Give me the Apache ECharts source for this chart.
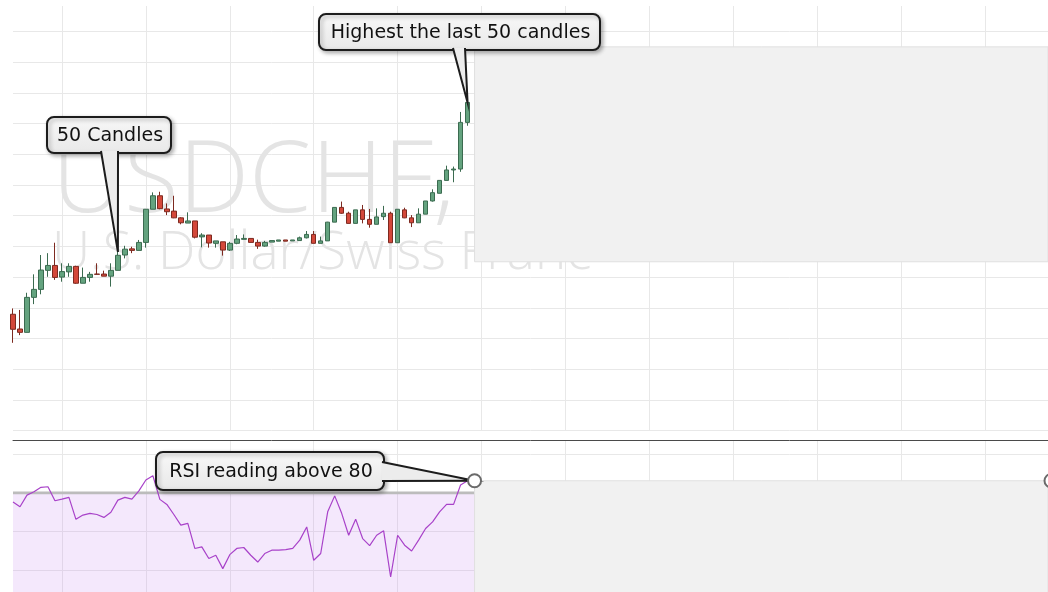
<!DOCTYPE html>
<html>
<head>
<meta charset="utf-8">
<title>USDCHF</title>
<script src="https://cdn.jsdelivr.net/npm/echarts@6/dist/echarts.min.js"></script>
<style>
html, body { margin: 0; padding: 0; background: #ffffff; }
#main { width: 1048px; height: 592px; }
</style>
</head>
<body>
<div id="main"></div>
<script>
// price data (one entry per candle)
var opens = [0.92379, 0.92331, 0.92320, 0.92434, 0.92460, 0.92522, 0.92538, 0.92500, 0.92517, 0.92535,
             0.92480, 0.92499, 0.92510, 0.92510, 0.92503, 0.92522, 0.92572, 0.92592, 0.92587, 0.92613,
             0.92721, 0.92765, 0.92722, 0.92715, 0.92693, 0.92676, 0.92683, 0.92631, 0.92637, 0.92610,
             0.92615, 0.92588, 0.92610, 0.92623, 0.92626, 0.92613, 0.92601, 0.92614, 0.92617, 0.92621,
             0.92618, 0.92619, 0.92628, 0.92639, 0.92610, 0.92618, 0.92679, 0.92727, 0.92708, 0.92675,
             0.92719, 0.92688, 0.92672, 0.92697, 0.92708, 0.92612, 0.92719, 0.92693, 0.92677, 0.92705,
             0.92748, 0.92773, 0.92815, 0.92849, 0.92852, 0.93004];
var closes = [0.92330, 0.92320, 0.92434, 0.92460, 0.92523, 0.92538, 0.92499, 0.92518, 0.92535, 0.92480,
              0.92499, 0.92509, 0.92509, 0.92503, 0.92522, 0.92571, 0.92591, 0.92587, 0.92613, 0.92721,
              0.92765, 0.92723, 0.92713, 0.92693, 0.92677, 0.92683, 0.92630, 0.92637, 0.92611, 0.92618,
              0.92588, 0.92610, 0.92624, 0.92626, 0.92613, 0.92601, 0.92613, 0.92619, 0.92621, 0.92617,
              0.92621, 0.92628, 0.92639, 0.92610, 0.92618, 0.92679, 0.92727, 0.92708, 0.92675, 0.92719,
              0.92688, 0.92672, 0.92696, 0.92708, 0.92612, 0.92721, 0.92693, 0.92677, 0.92705, 0.92748,
              0.92775, 0.92815, 0.92849, 0.92852, 0.93004, 0.93069];
var lows = [0.92286, 0.92311, 0.92320, 0.92412, 0.92444, 0.92501, 0.92491, 0.92485, 0.92501, 0.92478,
            0.92480, 0.92485, 0.92508, 0.92503, 0.92469, 0.92522, 0.92561, 0.92578, 0.92587, 0.92596,
            0.92721, 0.92721, 0.92702, 0.92692, 0.92672, 0.92676, 0.92626, 0.92597, 0.92596, 0.92596,
            0.92570, 0.92585, 0.92607, 0.92623, 0.92613, 0.92592, 0.92599, 0.92614, 0.92617, 0.92617,
            0.92618, 0.92619, 0.92626, 0.92610, 0.92610, 0.92618, 0.92679, 0.92706, 0.92675, 0.92675,
            0.92675, 0.92661, 0.92672, 0.92686, 0.92612, 0.92612, 0.92692, 0.92663, 0.92677, 0.92705,
            0.92746, 0.92773, 0.92815, 0.92809, 0.92843, 0.92993];
var highs = [0.92398, 0.92393, 0.92449, 0.92509, 0.92572, 0.92578, 0.92612, 0.92545, 0.92545, 0.92537,
             0.92531, 0.92517, 0.92545, 0.92521, 0.92545, 0.92582, 0.92602, 0.92599, 0.92621, 0.92721,
             0.92776, 0.92778, 0.92740, 0.92765, 0.92695, 0.92711, 0.92683, 0.92643, 0.92637, 0.92618,
             0.92615, 0.92615, 0.92637, 0.92639, 0.92626, 0.92622, 0.92618, 0.92619, 0.92621, 0.92621,
             0.92621, 0.92632, 0.92650, 0.92650, 0.92632, 0.92680, 0.92727, 0.92746, 0.92713, 0.92719,
             0.92735, 0.92722, 0.92724, 0.92732, 0.92713, 0.92721, 0.92726, 0.92702, 0.92724, 0.92748,
             0.92786, 0.92815, 0.92863, 0.92860, 0.93038, 0.93083];
var rsiValues = [75.2, 72.8, 78.8, 80.5, 82.8, 83.1, 75.9, 76.7, 77.6, 66.3,
                 68.5, 69.4, 68.8, 67.3, 70.0, 76.2, 77.6, 76.7, 81.0, 86.6,
                 88.8, 76.6, 74.0, 68.8, 63.3, 64.2, 51.3, 52.1, 46.1, 47.8,
                 40.9, 48.1, 51.3, 51.8, 47.8, 44.3, 48.7, 50.4, 50.4, 50.7,
                 51.3, 55.6, 62.4, 45.2, 48.7, 70.2, 78.4, 69.4, 58.1, 66.4,
                 56.4, 52.8, 58.1, 60.4, 36.6, 58.1, 53.0, 50.0, 55.6, 61.6,
                 65.0, 70.2, 74.0, 74.0, 84.0, 86.2];
var priceTicks = {min: 0.920, max: 0.933831, step: 0.001};
var rsiTicks = {min: 0, max: 107.2, step: 20, overbought: 80};
var hiddenZone = {top: 0.9325, bottom: 0.9255};
var symbolName = 'USDCHF, H1';
var symbolDesc = 'U.S. Dollar/Swiss Franc';
var notes = ['50 Candles', 'Highest the last 50 candles', 'RSI reading above 80'];

// chart has empty slots to the right of the last candle
var slotCount = 149;
var categories = [];
for (var i = 0; i < slotCount; i++) {
    categories.push(String(i));
}
var candleData = [];
for (var j = 0; j < opens.length; j++) {
    candleData.push([opens[j], closes[j], lows[j], highs[j]]);
}
var lastSlot = categories[slotCount - 1];
var futureSlot = categories[opens.length];

var gridColor = '#e8e8e8';
function gridInterval(index) {
    return (index - 7) % 12 === 0;
}

var chart = echarts.init(document.getElementById('main'));

var option = {
    animation: false,
    backgroundColor: '#ffffff',
    grid: [
        {left: 13, right: 0, top: 6, bottom: 161.4, outerBoundsMode: 'none'},
        {left: 13, right: 0, top: 440, bottom: -56, outerBoundsMode: 'none'}
    ],
    xAxis: [
        {
            type: 'category', gridIndex: 0, data: categories, boundaryGap: false,
            axisLine: {show: false}, axisTick: {show: false}, axisLabel: {show: false},
            splitLine: {show: true, interval: gridInterval, lineStyle: {color: gridColor, width: 1}}
        },
        {
            type: 'category', gridIndex: 1, data: categories, boundaryGap: false, position: 'top',
            axisLine: {show: true, onZero: false, lineStyle: {color: '#4a4a4a', width: 1}},
            axisTick: {show: false}, axisLabel: {show: false},
            splitLine: {show: true, interval: gridInterval, lineStyle: {color: gridColor, width: 1}}
        }
    ],
    yAxis: [
        {
            type: 'value', gridIndex: 0, min: priceTicks.min, max: priceTicks.max, interval: priceTicks.step,
            axisLine: {show: false}, axisTick: {show: false}, axisLabel: {show: false},
            splitLine: {show: true, showMaxLine: false, lineStyle: {color: gridColor, width: 1}}
        },
        {
            type: 'value', gridIndex: 1, min: rsiTicks.min, max: rsiTicks.max, interval: rsiTicks.step,
            axisLine: {show: false}, axisTick: {show: false}, axisLabel: {show: false},
            splitLine: {show: true, showMaxLine: false, lineStyle: {color: gridColor, width: 1}}
        }
    ],
    series: [
        {
            name: 'USDCHF',
            type: 'candlestick',
            xAxisIndex: 0, yAxisIndex: 0,
            data: candleData,
            barWidth: 5,
            clip: false,
            itemStyle: {
                color: '#64a37f',
                color0: '#d4483a',
                borderColor: '#3b6b50',
                borderColor0: '#7d2a20',
                borderWidth: 1
            },
            markArea: {
                silent: true,
                itemStyle: {color: '#f1f1f1', borderColor: '#e0e0e0', borderWidth: 1},
                data: [[
                    {xAxis: futureSlot, yAxis: hiddenZone.top},
                    {xAxis: lastSlot, yAxis: hiddenZone.bottom}
                ]]
            }
        },
        {
            name: 'RSI',
            type: 'line',
            xAxisIndex: 1, yAxisIndex: 1,
            data: rsiValues,
            symbol: 'none',
            lineStyle: {color: '#a842c9', width: 1.2},
            markArea: {
                silent: true,
                data: [
                    [{yAxis: 0, itemStyle: {color: 'rgba(190,120,240,0.17)'}}, {yAxis: rsiTicks.overbought}],
                    [{yAxis: rsiTicks.overbought - 0.7, itemStyle: {color: '#bcbcbc'}}, {yAxis: rsiTicks.overbought + 0.7}],
                    [{xAxis: futureSlot, yAxis: rsiValues[rsiValues.length - 1],
                      itemStyle: {color: '#f1f1f1', borderColor: '#e0e0e0', borderWidth: 1}},
                     {xAxis: lastSlot, yAxis: 0}]
                ]
            }
        }
    ]
};
chart.setOption(option);

// annotation callouts, tips follow the data
var boxFill = new echarts.graphic.LinearGradient(0, 0, 0, 1, [
    {offset: 0, color: '#f8f8f8'},
    {offset: 1, color: '#e8e8e8'}
]);
var ink = '#1c1c1c';
var noteFont = '19px "DejaVu Sans"';

function callout(box, b1, b2, tip, label) {
    return [
        {
            type: 'rect', z: 100,
            shape: {x: box[0], y: box[1], width: box[2], height: box[3], r: 7},
            style: {fill: boxFill, stroke: ink, lineWidth: 2,
                    shadowBlur: 4, shadowOffsetX: 2, shadowOffsetY: 2, shadowColor: 'rgba(0,0,0,0.3)'}
        },
        {
            type: 'polygon', z: 101,
            shape: {points: [b1, b2, tip]},
            style: {fill: '#ececec'}
        },
        {
            type: 'polyline', z: 102,
            shape: {points: [b1, tip, b2]},
            style: {stroke: ink, lineWidth: 2, fill: null}
        },
        {
            type: 'text', z: 103,
            style: {text: label, x: box[0] + box[2] / 2 + 1, y: box[1] + box[3] / 2 + 1,
                    font: noteFont, fill: '#111111', align: 'center', verticalAlign: 'middle'}
        }
    ];
}

var tip1 = chart.convertToPixel({gridIndex: 0}, [categories[15], highs[15]]);
var tip2 = chart.convertToPixel({gridIndex: 0}, [categories[65], closes[65]]);
var tip3 = chart.convertToPixel({gridIndex: 1}, [futureSlot, rsiValues[rsiValues.length - 1]]);

var graphics = [
    {
        type: 'text', z: 0, silent: true,
        style: {text: symbolName, x: 52, y: 184, font: '300 100px "Open Sans"', fill: '#e4e4e4',
                align: 'left', verticalAlign: 'middle'}
    },
    {
        type: 'text', z: 0, silent: true,
        style: {text: symbolDesc, x: 52, y: 254, font: '300 53px "Open Sans"', fill: '#e4e4e4',
                align: 'left', verticalAlign: 'middle'}
    }
];
graphics = graphics.concat(callout([47, 117, 124, 36], [101, 151], [118, 151], tip1, notes[0]));
graphics = graphics.concat(callout([319, 14, 281, 36], [453, 48], [465, 48], tip2, notes[1]));
graphics = graphics.concat(callout([156, 452, 228, 38], [382, 462], [382, 481], tip3, notes[2]));
graphics.push({
    type: 'circle', z: 104,
    shape: {cx: tip3[0], cy: tip3[1], r: 6.5},
    style: {fill: '#ffffff', stroke: '#6a6a6a', lineWidth: 2}
});
graphics.push({
    type: 'circle', z: 104,
    shape: {cx: 1051, cy: tip3[1], r: 6.5},
    style: {fill: '#ffffff', stroke: '#6a6a6a', lineWidth: 2}
});

chart.setOption({graphic: graphics});
</script>
</body>
</html>
